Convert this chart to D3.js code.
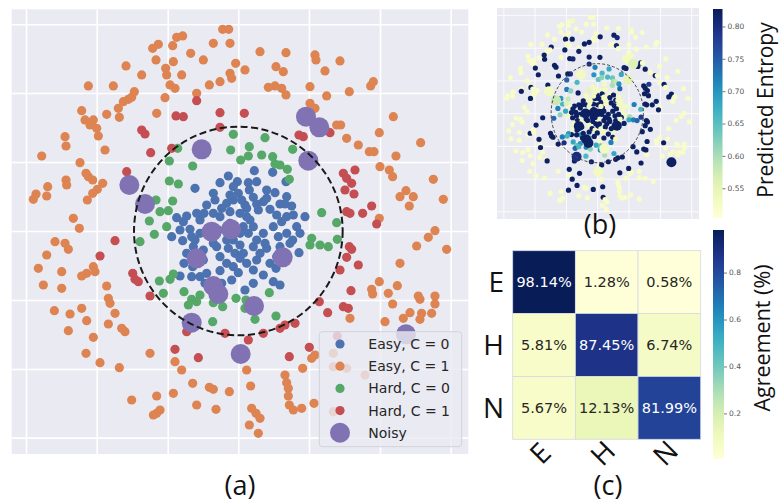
<!DOCTYPE html>
<html><head><meta charset="utf-8">
<script src="https://cdn.jsdelivr.net/npm/d3@7"></script>
<style>body{margin:0;background:#fff}svg{display:block}</style>
</head><body>
<svg id="fig" width="779" height="504"></svg>
<script>
// Embedding coordinates [x, y, predicted entropy] for each sample group
const easyC0 = [[-3.0,16.5,.53],[-5.5,14.5,.55],[-0.3,14.8,.53],[4.8,18.1,.53],[10.3,17.6,.60],[14.3,14.8,.53],[-13.0,12.8,.82],[3.0,14.5,.53],[3.3,12.3,.82],[-7.5,11.3,.53],[0.0,11.3,.82],[4.5,10.1,.53],[8.5,12.3,.53],[11.0,11.5,.82],[-7.0,9.3,.53],[-3.5,8.3,.53],[-1.5,9.3,.82],[2.0,7.8,.53],[2.5,6.8,.82],[7.5,8.8,.53],[12.5,8.1,.82],[14.0,8.1,.53],[16.0,7.5,.53],[-12.5,5.3,.82],[-15.5,4.5,.82],[-18.5,4.0,.53],[-10.3,5.3,.82],[-7.5,5.3,.82],[-5.5,4.3,.53],[-2.5,5.8,.82],[0.5,5.3,.82],[3.5,3.3,.82],[6.0,6.3,.53],[9.5,6.5,.82],[11.5,4.8,.82],[14.5,4.3,.53],[20.0,4.3,.53],[-17.5,0.3,.82],[-14.5,0.5,.82],[-11.5,-0.7,.82],[-13.0,-2.7,.53],[-7.5,-1.7,.82],[-3.5,-2.7,.82],[-1.0,0.3,.82],[1.5,1.3,.82],[3.0,-0.7,.82],[7.5,-0.7,.82],[10.5,1.3,.82],[13.0,2.8,.82],[17.5,1.3,.53],[18.5,-0.7,.53],[16.3,-2.7,.82],[-20.0,-1.7,.53],[-16.7,-2.9,.82],[-13.5,-4.7,.82],[-10.5,-5.7,.53],[-6.5,-4.7,.82],[-3.0,-5.2,.82],[0.5,-4.2,.53],[4.5,-4.7,.82],[6.5,-6.7,.82],[8.5,-5.2,.82],[12.5,-4.7,.82],[15.5,-3.7,.53],[18.2,-6.5,.82],[-16.3,-9.7,.53],[-13.7,-10.7,.82],[-10.5,-8.7,.82],[-5.5,-7.7,.53],[-3.5,-9.7,.82],[0.5,-8.2,.82],[2.5,-9.7,.53],[5.5,-8.7,.82],[11.5,-7.7,.82],[-11.5,-13.7,.70],[-14.0,-13.7,.82],[-9.5,-12.7,.82],[-5.5,-11.9,.82],[-1.5,-10.7,.53],[0.0,-12.5,.82],[4.5,-11.7,.53],[7.5,-13.2,.82],[11.3,-11.2,.53],[10.5,-15.2,.82],[12.5,-16.2,.53],[-10.0,-15.7,.82],[-5.0,-15.7,.65],[-2.0,-14.7,.82],[2.0,-17.7,.53],[4.5,-15.7,.82],[-17.5,-13.5,.82],[-7.5,-3.7,.82],[-1.0,-6.7,.82],[-2.5,2.3,.82],[2.5,4.3,.53],[5.5,-2.7,.82],[16.5,4.8,.53],[-9.0,0.3,.82],[-6.0,0.3,.82],[-1.5,13.3,.53],[5.5,14.8,.53],[8.5,9.8,.82],[4.5,1.3,.82],[-1.5,-2.7,.82],[0.5,-0.7,.82],[1.5,-6.7,.82],[9.5,-9.7,.82],[-15.5,-6.7,.53],[-11.5,3.3,.82],[14.5,-0.7,.82],[12.0,-1.7,.82],[8.0,-3.7,.82],[-2.5,10.8,.53],[1.0,9.3,.82],[-5.0,6.8,.53],[-9.5,7.8,.82],[5.5,8.1,.53],[14.5,10.3,.53],[-16.5,2.8,.82],[-14.0,-1.7,.82]];

const easyC1 = [[-4.7,60.5,.52],[-2.9,60.5,.52],[-18.5,58.1,.52],[-16.7,58.5,.53],[-7.5,56.3,.52],[-2.5,56.3,.52],[-19.7,55.6,.52],[-24.0,56.0,.52],[-25.7,54.8,.52],[6.5,53.8,.52],[14.3,53.5,.52],[23.0,52.8,.53],[-14.3,53.3,.52],[-24.7,51.3,.52],[-19.5,50.8,.52],[-10.5,51.3,.52],[-0.8,50.3,.52],[23.3,51.3,.52],[30.5,51.0,.52],[-33.7,49.5,.52],[-21.8,48.8,.52],[2.0,48.3,.82],[11.3,49.3,.82],[13.5,47.8,.81],[26.0,48.0,.52],[-29.0,46.8,.52],[-21.5,46.8,.82],[-17.0,46.8,.82],[-2.5,47.3,.52],[-2.0,45.8,.52],[-5.5,44.8,.82],[-8.7,43.8,.82],[-45.0,43.5,.52],[-37.5,43.5,.52],[-20.5,43.8,.52],[-19.0,42.8,.52],[9.0,43.1,.52],[11.0,43.5,.52],[13.0,42.8,.81],[14.3,40.8,.52],[21.5,43.3,.52],[39.7,43.5,.52],[40.5,44.8,.52],[-31.2,41.8,.82],[-32.0,40.1,.52],[-22.0,40.0,.82],[-12.5,41.3,.52],[26.5,40.5,.52],[33.3,41.8,.52],[-34.5,38.8,.52],[-33.0,39.5,.52],[21.5,38.3,.52],[23.0,36.8,.53],[-47.0,36.1,.52],[-39.5,35.0,.52],[-36.0,36.8,.82],[-35.7,34.1,.82],[-24.5,35.3,.52],[46.5,34.3,.52],[-46.0,33.3,.52],[-43.5,33.3,.52],[-44.5,31.8,.52],[-42.5,30.8,.52],[-42.0,28.5,.82],[29.5,31.8,.82],[30.7,31.8,.52],[-52.0,28.3,.52],[-51.7,25.5,.52],[32.5,27.8,.82],[36.0,25.8,.52],[42.3,29.5,.52],[54.7,26.5,.52],[-40.0,24.3,.82],[39.3,23.8,.82],[40.7,23.8,.52],[47.3,22.5,.52],[-59.0,22.5,.52],[-47.5,20.5,.52],[42.5,19.3,.52],[45.3,18.3,.82],[46.3,16.3,.52],[58.5,15.5,.52],[-45.7,17.3,.52],[-45.0,16.3,.82],[-43.7,15.3,.52],[-51.7,15.3,.52],[-51.5,13.8,.82],[-40.7,14.3,.52],[-42.3,12.5,.52],[-43.7,11.3,.52],[-45.3,9.3,.82],[-61.5,9.5,.52],[-60.7,11.1,.52],[-57.2,13.3,.52],[-57.5,10.5,.52],[48.5,10.3,.82],[50.3,12.1,.82],[51.3,7.5,.52],[52.5,10.3,.52],[61.5,9.5,.52],[-49.5,3.8,.52],[-47.7,0.8,.52],[42.3,3.8,.52],[-55.0,-3.2,.52],[-57.5,-7.2,.52],[-52.0,-3.7,.52],[-51.0,-5.5,.52],[59.0,0.1,.52],[57.0,-1.9,.52],[53.5,-4.5,.52],[62.5,-5.5,.52],[-60.0,-11.2,.52],[-58.5,-16.2,.52],[-53.0,-12.2,.52],[-53.0,-17.2,.52],[-47.0,-13.5,.52],[-45.5,-12.7,.82],[-43.5,-10.7,.52],[-43.0,-12.2,.52],[-39.5,-16.5,.82],[48.5,-9.7,.52],[-39.0,-20.2,.52],[-38.5,-21.7,.82],[-37.0,-24.7,.52],[40.0,-17.5,.52],[40.3,-18.9,.52],[42.3,-15.2,.52],[45.0,-18.7,.82],[47.7,-16.4,.52],[54.0,-19.5,.52],[54.5,-20.5,.52],[59.0,-19.5,.52],[59.0,-21.9,.52],[46.3,-21.9,.52],[-55.2,-23.9,.52],[-50.5,-24.9,.52],[-47.0,-23.2,.52],[-45.5,-26.9,.52],[-39.0,-27.9,.52],[-35.0,-29.2,.52],[-34.0,-30.2,.82],[-51.0,-29.9,.52],[33.5,-26.2,.52],[44.0,-27.2,.52],[49.5,-26.2,.52],[51.5,-24.5,.52],[55.0,-24.7,.52],[54.5,-26.5,.52],[58.0,-24.7,.52],[-45.7,-36.7,.52],[-43.5,-31.9,.52],[-41.5,-39.5,.52],[-35.7,-41.0,.52],[-26.5,-36.7,.52],[-19.0,-39.2,.52],[-17.0,-41.7,.82],[2.5,-41.7,.52],[14.0,-43.2,.52],[14.5,-45.5,.52],[19.3,-41.2,.52],[22.0,-38.2,.52],[23.0,-37.2,.52],[-13.7,-45.7,.82],[-8.7,-46.9,.52],[-7.5,-47.5,.52],[-2.7,-48.2,.82],[3.7,-46.5,.82],[15.0,-47.2,.52],[15.0,-49.5,.52],[-24.5,-49.5,.52],[-19.5,-48.7,.82],[-32.0,-50.7,.52],[-12.5,-52.2,.52],[-6.7,-53.5,.52],[-23.5,-53.7,.52],[-24.5,-54.7,.52],[-25.5,-55.2,.52],[4.0,-53.2,.82],[5.3,-54.7,.52],[6.5,-56.2,.52],[15.3,-52.2,.52],[16.5,-53.7,.52],[19.0,-53.2,.52],[22.7,-51.7,.52],[3.3,-58.2,.52],[6.0,-60.7,.52],[28.5,-36.7,.52],[32.5,-41.2,.52],[28.5,-40.7,.52],[38.0,-43.2,.52],[28.5,-54.2,.52]];

const hardC0 = [[-1.5,29.0,.72],[8.0,28.0,.68],[3.3,25.3,.66],[-2.3,24.3,.70],[0.7,21.3,.64],[3.0,22.5,.62],[7.0,22.8,.66],[10.3,22.3,.64],[11.0,20.1,.60],[12.5,19.8,.58],[14.7,18.5,.70],[15.3,15.5,.74],[16.3,24.5,.68],[-20.7,21.0,.74],[-13.7,19.5,.66],[-18.2,24.8,.80],[-20.7,15.0,.72],[-18.0,14.1,.62],[-19.7,9.0,.58],[-24.7,9.3,.70],[-23.5,5.8,.66],[-21.0,6.1,.56],[-26.7,3.0,.72],[-21.5,1.3,.68],[-25.2,-1.0,.62],[-29.5,-3.2,.74],[25.0,5.5,.72],[29.5,2.5,.66],[29.7,-2.5,.78],[22.0,-2.2,.60],[21.5,-4.2,.68],[24.5,-4.2,.72],[27.0,-4.7,.74],[-19.5,-12.9,.70],[-20.5,-14.5,.66],[-23.7,-15.0,.72],[-22.5,-18.7,.80],[-16.3,-18.2,.68],[-14.0,-20.5,.64],[-11.5,-19.2,.70],[-15.0,-22.2,.74],[-12.5,-21.2,.66],[-7.5,-21.5,.72],[-4.7,-22.7,.62],[-0.7,-20.2,.68],[2.3,-20.7,.64],[2.0,-23.2,.70],[-7.7,-27.2,.66],[5.0,-26.5,.60],[9.3,-18.5,.72],[11.3,-25.5,.68]];

const hardC1 = [[-12.5,39.1,.82],[-5.5,35.5,.82],[1.8,35.3,.82],[-18.7,34.5,.82],[-16.5,34.3,.81],[-29.0,30.3,.82],[-28.0,29.1,.82],[-5.5,31.1,.80],[-26.3,23.5,.82],[-20.0,24.8,.82],[18.2,28.8,.82],[19.5,28.3,.82],[27.5,29.5,.82],[31.5,17.3,.82],[32.5,15.8,.82],[35.0,18.3,.78],[34.0,14.3,.82],[32.0,12.3,.82],[34.7,11.1,.82],[32.5,5.8,.82],[33.5,5.3,.82],[37.3,5.3,.82],[40.0,7.5,.82],[41.5,2.1,.82],[-33.5,17.8,.82],[-37.0,-2.9,.82],[-41.5,-7.5,.82],[-31.7,-12.7,.82],[-31.0,-14.5,.82],[-30.0,-15.2,.82],[33.3,-4.7,.82],[34.0,-5.5,.82],[32.5,-7.9,.82],[30.5,-11.7,.82],[36.0,-10.2,.82],[33.8,-17.9,.82],[31.5,-22.7,.82],[33.0,-23.2,.82],[24.3,-21.2,.82],[26.8,-24.5,.82],[17.0,-27.7,.82],[14.0,-28.2,.82],[12.5,-29.2,.82],[7.5,-30.7,.82],[3.0,-32.7,.82],[-4.0,-30.7,.82],[-15.5,-30.2,.82],[-19.0,-35.5,.82],[-12.0,-38.0,.82],[-26.5,-19.5,.82],[21.3,-34.9,.82],[15.3,-37.7,.82],[29.7,-31.5,.82]];

const noisy = [[-11.0,24.5,.53],[20.3,34.3,.53],[24.3,31.1,.56],[21.0,21.1,.55],[-32.7,13.8,.53],[-28.0,8.1,.58],[-8.0,-0.2,.82],[-2.2,0.5,.82],[-12.5,-8.2,.82],[13.3,-7.9,.82],[-7.5,-16.5,.82],[-6.0,-18.9,.82],[4.7,-22.5,.53],[-14.0,-27.5,.80],[0.7,-36.9,.53],[50.3,-31.0,.82]];

// Decision boundary radius and embedding extent
const boundaryRadius = 31.3;
const xDomain = [-68, 69];
const yDomain = [66.5, -66.9];
const gridX = [-63.7, -42.5, -21.2, 0, 21.2, 42.5, 63.7];
const gridY = [-62, -41.4, -20.7, 0, 20.7, 41.4, 62];

// Agreement matrix (%)
const classLabels = ["E", "H", "N"];
const agreement = [[98.14, 1.28, 0.58], [5.81, 87.45, 6.74], [5.67, 12.13, 81.99]];

const entropyRange = [0.504, 0.827];
const entropyTicks = [0.55, 0.60, 0.65, 0.70, 0.75, 0.80];
const agreementTicks = [0.2, 0.4, 0.6, 0.8];

const groups = [
  {label: "Easy, C = 0", pts: easyC0, color: "#4c72b0", big: false},
  {label: "Easy, C = 1", pts: easyC1, color: "#dd8452", big: false},
  {label: "Hard, C = 0", pts: hardC0, color: "#55a868", big: false},
  {label: "Hard, C = 1", pts: hardC1, color: "#c44e52", big: false},
  {label: "Noisy", pts: noisy, color: "#8172b3", big: true}
];

const svg = d3.select("#fig");
const labelFont = "'Open Sans', 'Noto Sans', sans-serif";
const mplFont = "'DejaVu Sans', sans-serif";

function scatterPanel(x, y, gridWidth, dotR, bigR, colorOf, circleStyle) {
  const g = svg.append("g");
  const [x0, x1] = x.range(), [y0, y1] = y.range();
  g.append("rect").attr("x", x0).attr("y", y0).attr("width", x1 - x0).attr("height", y1 - y0).attr("fill", "#eaeaf2");
  g.append("g").attr("transform", `translate(0,${y0})`)
    .call(d3.axisTop(x).tickValues(gridX).tickSize(-(y1 - y0)).tickFormat(""))
    .call(a => a.select(".domain").remove())
    .selectAll("line").attr("stroke", "#fff").attr("stroke-width", gridWidth);
  g.append("g").attr("transform", `translate(${x0},0)`)
    .call(d3.axisLeft(y).tickValues(gridY).tickSize(-(x1 - x0)).tickFormat(""))
    .call(a => a.select(".domain").remove())
    .selectAll("line").attr("stroke", "#fff").attr("stroke-width", gridWidth);
  groups.forEach(gr => {
    g.append("g").selectAll("circle").data(gr.pts).join("circle")
      .attr("cx", d => x(d[0])).attr("cy", d => y(d[1]))
      .attr("r", gr.big ? bigR : dotR)
      .attr("fill", d => colorOf(gr, d));
  });
  g.append("ellipse")
    .attr("cx", x(0)).attr("cy", y(0))
    .attr("rx", x(boundaryRadius) - x(0)).attr("ry", y(0) - y(boundaryRadius))
    .attr("fill", "none").attr("stroke", circleStyle.color)
    .attr("stroke-width", circleStyle.width).attr("stroke-dasharray", circleStyle.dash);
  return g;
}

// (a) embedding coloured by difficulty / class
const xa = d3.scaleLinear().domain(xDomain).range([11.7, 468.3]);
const ya = d3.scaleLinear().domain(yDomain).range([9.3, 454]);
const ga = scatterPanel(xa, ya, 1.6, 4.6, 10, gr => gr.color, {color: "#1a1a1a", width: 2, dash: "7,3.5"});

// legend
const leg = ga.append("g").attr("transform", "translate(319.3,331.7)");
leg.append("rect").attr("width", 142.4).attr("height", 115).attr("rx", 3)
  .attr("fill", "#eaeaf2").attr("fill-opacity", 0.8).attr("stroke", "#d2d2da").attr("stroke-width", 1);
groups.forEach((gr, i) => {
  const cy = 12.3 + i * 22.2;
  leg.append("circle").attr("cx", 20.7).attr("cy", cy).attr("r", gr.big ? 10 : 4.6).attr("fill", gr.color);
  leg.append("text").attr("x", 49).attr("y", cy).attr("dy", "0.36em")
    .attr("font-family", mplFont).attr("font-size", 14).attr("fill", "#262626").text(gr.label);
});

// (b) embedding coloured by predicted entropy
const entropyColor = d3.scaleSequential(d3.interpolateYlGnBu).domain(entropyRange);
const xb = d3.scaleLinear().domain(xDomain).range([497, 699]);
const yb = d3.scaleLinear().domain(yDomain).range([8, 219]);
scatterPanel(xb, yb, 0.8, 2.6, 5, (gr, d) => entropyColor(d[2]), {color: "#444", width: 1, dash: "3,2"});

function colorbar(id, interp, domain, ticks, fmt, x, y0, y1, w) {
  const grad = svg.append("defs").append("linearGradient").attr("id", id)
    .attr("x1", 0).attr("y1", 1).attr("x2", 0).attr("y2", 0);
  d3.range(0, 1.0001, 0.05).forEach(t => grad.append("stop").attr("offset", t).attr("stop-color", interp(t)));
  svg.append("rect").attr("x", x).attr("y", y0).attr("width", w).attr("height", y1 - y0).attr("fill", `url(#${id})`);
  const s = d3.scaleLinear().domain(domain).range([y1, y0]);
  const ax = svg.append("g").attr("transform", `translate(${x + w},0)`)
    .call(d3.axisRight(s).tickValues(ticks).tickSize(3).tickPadding(2).tickFormat(fmt));
  ax.select(".domain").remove();
  ax.selectAll("line").attr("stroke", "#555").attr("stroke-width", 0.8);
  ax.selectAll("text").attr("font-family", mplFont).attr("font-size", 7.5).attr("fill", "#555");
}

colorbar("cbEntropy", d3.interpolateYlGnBu, entropyRange, entropyTicks, d3.format(".2f"), 713, 9, 218, 9.5);
svg.append("text").attr("transform", "translate(772.5,110) rotate(-90)")
  .attr("text-anchor", "middle").attr("font-family", labelFont).attr("font-size", 21).attr("fill", "#111")
  .text("Predicted Entropy");

// (c) agreement matrix
const flat = agreement.flat().map(v => v / 100);
const agrDomain = [d3.min(flat), d3.max(flat)];
const agrColor = d3.scaleSequential(d3.interpolateYlGnBu).domain(agrDomain);
const xh = d3.scaleBand().domain(classLabels).range([512.7, 700.7]);
const yh = d3.scaleBand().domain(classLabels).range([250.7, 439.3]);
const cells = agreement.flatMap((row, i) => row.map((v, j) => ({r: classLabels[i], c: classLabels[j], v})));
const gc = svg.append("g");
gc.selectAll("rect").data(cells).join("rect")
  .attr("x", d => xh(d.c)).attr("y", d => yh(d.r))
  .attr("width", xh.bandwidth()).attr("height", yh.bandwidth())
  .attr("fill", d => agrColor(d.v / 100))
  .attr("stroke", "#d4d9e4").attr("stroke-width", 0.8);
gc.selectAll("text").data(cells).join("text")
  .attr("x", d => xh(d.c) + xh.bandwidth() / 2).attr("y", d => yh(d.r) + yh.bandwidth() / 2)
  .attr("dy", "0.36em").attr("text-anchor", "middle")
  .attr("font-family", mplFont).attr("font-size", 14.5)
  .attr("fill", d => d3.lab(agrColor(d.v / 100)).l < 50 ? "#ffffff" : "#262626")
  .text(d => d3.format(".2f")(d.v) + "%");
svg.append("g").selectAll("text").data(classLabels).join("text")
  .attr("x", 504).attr("y", d => yh(d) + yh.bandwidth() / 2).attr("dy", "0.36em")
  .attr("text-anchor", "end").attr("font-family", labelFont).attr("font-size", 28).attr("fill", "#111")
  .text(d => d);
svg.append("g").selectAll("text").data(classLabels).join("text")
  .attr("transform", d => `translate(${xh(d) + xh.bandwidth() / 2 - 4},453) rotate(-45)`)
  .attr("dy", "0.36em").attr("text-anchor", "middle")
  .attr("font-family", labelFont).attr("font-size", 28).attr("fill", "#111")
  .text(d => d);

colorbar("cbAgree", d3.interpolateYlGnBu, agrDomain, agreementTicks, d3.format(".1f"), 713, 230, 459, 11);
svg.append("text").attr("transform", "translate(770,338) rotate(-90)")
  .attr("text-anchor", "middle").attr("font-family", labelFont).attr("font-size", 21.5).attr("fill", "#111")
  .text("Agreement (%)");

// panel captions
[["(a)", 240, 495], ["(b)", 600, 234], ["(c)", 608, 495]].forEach(([t, x, y]) =>
  svg.append("text").attr("x", x).attr("y", y).attr("text-anchor", "middle")
    .attr("font-family", labelFont).attr("font-size", 27).attr("fill", "#111").text(t));
</script>
</body></html>
